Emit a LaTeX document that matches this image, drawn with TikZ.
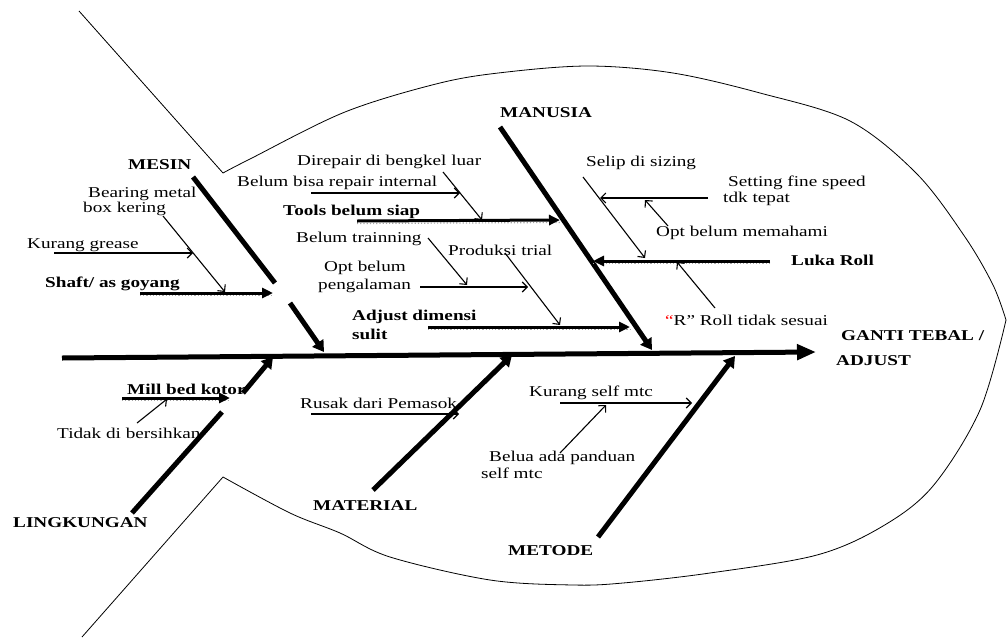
\documentclass[tikz,border=0pt]{standalone}
\usepackage{fontspec}
\setmainfont{Liberation Serif}[FakeStretch=1.28]
\usetikzlibrary{arrows.meta}
\begin{document}
\begin{tikzpicture}[x=1pt,y=-1pt,
  outline/.style={line width=0.8pt},
  spine/.style={line width=5pt,-{Triangle[length=19pt,width=15pt]}},
  bone/.style={line width=5pt},
  bonearrow/.style={line width=5pt,-{Triangle[length=11pt,width=13pt]}},
  midarrow/.style={line width=3pt,-{Triangle[length=11pt,width=10pt]},
    preaction={draw=gray!70,line width=1.2pt,dotted,transform canvas={yshift=-2.5pt},-}},
  thinarrow/.style={line width=1.1pt,-{Straight Barb[length=5pt,width=10pt]}},
  txt/.style={inner sep=0pt,anchor=west,font=\fontsize{15}{17}\selectfont},
  btxt/.style={txt,font=\fontsize{15}{17}\selectfont\bfseries}]
\useasboundingbox (0,0) rectangle (1008,637);

% fish outline
\draw[outline] (79,11) -- (223,173);
\draw[outline] plot[smooth,tension=0.55] coordinates {(223,173) (250,159) (345,112) (440,83) (507,72) (590,66) (673,73) (760,93) (850,121) (917,174) (965,237) (993,285) (1006,320)};
\draw[outline] plot[smooth,tension=0.55] coordinates {(223,477) (290,513) (340,533) (390,557) (490,580) (573,585) (623,583) (710,573) (817,555) (883,526) (933,486) (980,410) (1006,320)};
\draw[outline] (223,477) -- (82,637);

% spine
\coordinate (sL) at (62,358);
\coordinate (sR) at (816,352);
\draw[spine] (sL) -- (sR);

% labels
\node[btxt] (mesin) at (128,165) {MESIN};
\node[txt] (bear1) at (88,194) {Bearing metal};
\node[txt] (bear2) at (83,209) {box kering};
\node[txt] (kgrease) at (27,245) {Kurang grease};
\node[btxt] (shaft) at (45,284) {Shaft/ as goyang};
\node[txt] (direp) at (297,162) {Direpair di bengkel luar};
\node[txt] (bbisa) at (237,183) {Belum bisa repair internal};
\node[btxt] (tools) at (283,212) {Tools belum siap};
\node[txt] (btrain) at (296,239) {Belum trainning};
\node[txt] (prod) at (448,250) {Produksi trial};
\node[txt] (opt1) at (324,268) {Opt belum};
\node[txt] (opt2) at (318,286) {pengalaman};
\node[btxt] (adj1) at (352,317) {Adjust dimensi};
\node[btxt] (adj2) at (352,334) {sulit};
\node[btxt] (manusia) at (500,113) {MANUSIA};
\node[txt] (selip) at (586,163) {Selip di sizing};
\node[txt] (set1) at (728,183) {Setting fine speed};
\node[txt] (set2) at (723,199) {tdk tepat};
\node[txt] (optm) at (656,233) {Opt belum memahami};
\node[btxt] (luka) at (791,260) {Luka Roll};
\node[txt] (rroll) at (665,320) {\textcolor{red}{“}R” Roll tidak sesuai};
\node[btxt] (ganti) at (841,336) {GANTI TEBAL /};
\node[btxt] (adjust) at (836,361) {ADJUST};
\node[btxt] (mill) at (127,389) {Mill bed kotor};
\node[txt] (tidak) at (57,433) {Tidak di bersihkan};
\node[btxt] (lingk) at (13,523) {LINGKUNGAN};
\node[txt] (rusak) at (300,403) {Rusak dari Pemasok};
\node[btxt] (material) at (313,506) {MATERIAL};
\node[txt] (kself) at (529,393) {Kurang self mtc};
\node[txt] (belua1) at (489,458) {Belua ada panduan};
\node[txt] (belua2) at (481,473) {self mtc};
\node[btxt] (metode) at (508,551) {METODE};

% main bones
\coordinate (m0) at (193,177); \coordinate (m1) at (275,283);
\coordinate (m2) at (290,303); \coordinate (m3) at (324,352);
\draw[bone] (m0) -- (m1);
\draw[bonearrow] (m2) -- (m3);
\coordinate (h0) at (500,127); \coordinate (h1) at (652,350);
\draw[bonearrow] (h0) -- (h1);
\coordinate (l0) at (132,513); \coordinate (l1) at (222,412);
\coordinate (l2) at (243,393); \coordinate (l3) at (273,357);
\draw[bone] (l0) -- (l1);
\draw[bonearrow] (l2) -- (l3);
\coordinate (t0) at (373,490); \coordinate (t1) at (512,355);
\draw[bonearrow] (t0) -- (t1);
\coordinate (d0) at (598,537); \coordinate (d1) at (735,356);
\draw[bonearrow] (d0) -- (d1);

% medium arrows
\coordinate (a0) at (140,293); \coordinate (a1) at (273,293);
\draw[midarrow] (a0) -- (a1);
\coordinate (b0) at (357,221); \coordinate (b1) at (560,220);
\draw[midarrow] (b0) -- (b1);
\coordinate (c0) at (428,327); \coordinate (c1) at (630,327);
\draw[midarrow] (c0) -- (c1);
\coordinate (e0) at (770,261); \coordinate (e1) at (593,261);
\draw[midarrow] (e0) -- (e1);
\coordinate (f0) at (122,398); \coordinate (f1) at (230,398);
\draw[midarrow] (f0) -- (f1);

% thin arrows
\coordinate (g0) at (54,253); \coordinate (g1) at (193,253);
\draw[thinarrow] (g0) -- (g1);
\coordinate (i0) at (163,216); \coordinate (i1) at (225,292);
\draw[thinarrow] (i0) -- (i1);
\coordinate (j0) at (311,193); \coordinate (j1) at (460,193);
\draw[thinarrow] (j0) -- (j1);
\coordinate (k0) at (443,172); \coordinate (k1) at (482,220);
\draw[thinarrow] (k0) -- (k1);
\coordinate (n0) at (428,238); \coordinate (n1) at (467,285);
\draw[thinarrow] (n0) -- (n1);
\coordinate (o0) at (420,287); \coordinate (o1) at (528,287);
\draw[thinarrow] (o0) -- (o1);
\coordinate (p0) at (505,253); \coordinate (p1) at (560,325);
\draw[thinarrow] (p0) -- (p1);
\coordinate (q0) at (583,177); \coordinate (q1) at (645,258);
\draw[thinarrow] (q0) -- (q1);
\coordinate (r0) at (708,198); \coordinate (r1) at (600,198);
\draw[thinarrow] (r0) -- (r1);
\coordinate (u0) at (668,226); \coordinate (u1) at (645,200);
\draw[thinarrow] (u0) -- (u1);
\coordinate (v0) at (715,308); \coordinate (v1) at (677,262);
\draw[thinarrow] (v0) -- (v1);
\coordinate (w0) at (137,423); \coordinate (w1) at (167,399);
\draw[thinarrow] (w0) -- (w1);
\coordinate (x0) at (311,414); \coordinate (x1) at (459,414);
\draw[thinarrow] (x0) -- (x1);
\coordinate (y0) at (560,403); \coordinate (y1) at (692,403);
\draw[thinarrow] (y0) -- (y1);
\coordinate (z0) at (560,453); \coordinate (z1) at (606,405);
\draw[thinarrow] (z0) -- (z1);
\end{tikzpicture}
\end{document}
